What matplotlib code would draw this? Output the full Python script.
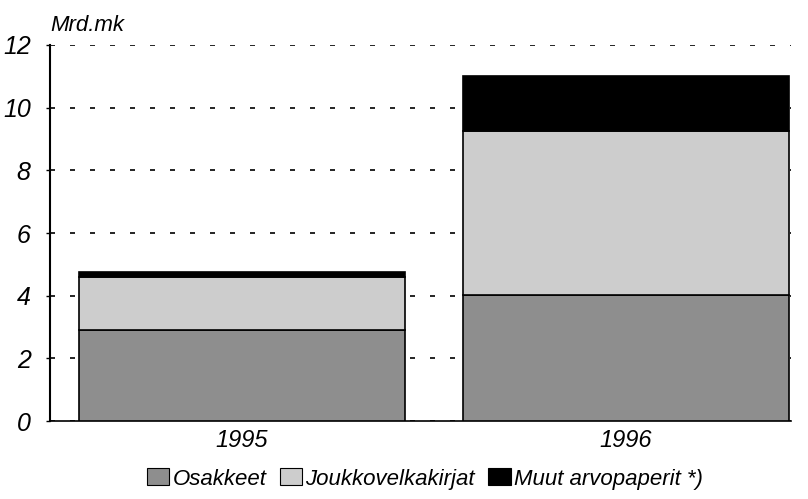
import matplotlib.pyplot as plt
from matplotlib.patches import Patch

plt.rcParams['font.family'] = ['Liberation Sans', 'DejaVu Sans']

# Datos
vuodet = ['1995', '1996']
osakkeet = [2.9, 4.02]
joukkovelkakirjat = [1.7, 5.24]
muut = [0.16, 1.75]

sarjat = ['Osakkeet', 'Joukkovelkakirjat', 'Muut arvopaperit *)']
varit = ['#8e8e8e', '#cdcdcd', '#000000']

fig = plt.figure(figsize=(8.08, 4.99), dpi=100)
ax = fig.add_axes([0.062, 0.156, 0.917, 0.754])

x = range(len(vuodet))
w = 0.85
pohja2 = [a + b for a, b in zip(osakkeet, joukkovelkakirjat)]
ax.bar(x, osakkeet, w, color=varit[0], edgecolor='black', linewidth=1.2, zorder=3)
ax.bar(x, joukkovelkakirjat, w, bottom=osakkeet, color=varit[1], edgecolor='black', linewidth=1.2, zorder=3)
ax.bar(x, muut, w, bottom=pohja2, color=varit[2], edgecolor='black', linewidth=1.2, zorder=3)

ax.set_xlim(-0.5, 1.43)
ax.set_ylim(0, 12)
ax.set_yticks(range(0, 13, 2))
ax.set_yticklabels([str(v) for v in range(0, 13, 2)], fontsize=18, style='italic')
ax.set_xticks(list(x))
ax.set_xticklabels(vuodet, fontsize=17, style='italic')
ax.tick_params(axis='x', length=0, pad=6)
ax.tick_params(axis='y', length=3, width=1, pad=11)
ax.yaxis.grid(True, color='black', linestyle=(0, (3, 9)), linewidth=1.2, zorder=0)

for s in ['top', 'right']:
    ax.spines[s].set_visible(False)
ax.spines['left'].set_linewidth(1.5)
ax.spines['bottom'].set_linewidth(1.2)

fig.text(0.062, 0.928, 'Mrd.mk', fontsize=16, style='italic', ha='left', va='bottom')

kahvat = [Patch(facecolor=c, edgecolor='black', linewidth=0.8) for c in varit]
fig.legend(kahvat, sarjat, loc='center', bbox_to_anchor=(0.526, 0.04), ncol=3,
           frameon=False, prop={'size': 16, 'style': 'italic'},
           handlelength=1.0, handleheight=0.8, handletextpad=0.15, columnspacing=0.6)

plt.savefig('out.png', dpi=100)
